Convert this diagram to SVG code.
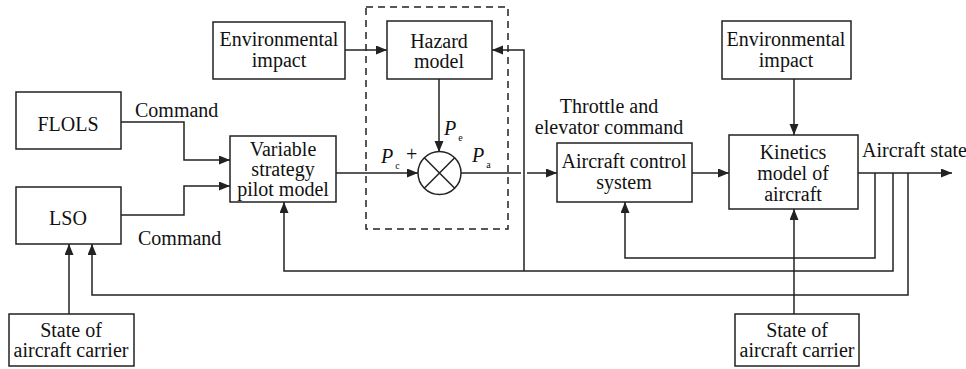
<svg xmlns="http://www.w3.org/2000/svg" width="966" height="369" viewBox="0 0 966 369">
  <style>
    .box { fill: #fff; stroke: #222; stroke-width: 1.5; }
    .ln { fill: none; stroke: #222; stroke-width: 1.5; }
    .arr { marker-end: url(#ah); }
    .dash { fill: none; stroke: #222; stroke-width: 1.5; stroke-dasharray: 7 5; }
    text { font-family: 'Liberation Serif', 'Times New Roman', serif; font-size: 20px; fill: #111; text-anchor: middle; }
    .it { font-style: italic; }
    .sub { font-size: 10px; font-style: normal; }
    .st { text-anchor: start; }
  </style>
  <defs>
    <marker id="ah" markerUnits="userSpaceOnUse" markerWidth="12" markerHeight="10" refX="11" refY="4.5" orient="auto">
      <path d="M0,0 L11,4.5 L0,9 z" fill="#222"/>
    </marker>
  </defs>

  <rect width="966" height="369" fill="#fff"/>

  <!-- hazard sub-system frame -->
  <rect class="dash" x="366" y="7" width="142" height="222"/>

  <g id="connectors">
    <path class="ln arr" d="M121,122 H184 V160 H230"/>
    <path class="ln arr" d="M121,215 H184 V186 H230"/>
    <path class="ln arr" d="M345,50 H387"/>
    <path class="ln arr" d="M439,79 V152"/>
    <path class="ln arr" d="M336,173 H418"/>
    <path class="ln" d="M461,173 H521"/>
    <path class="ln arr" d="M527,173 H557"/>
    <path class="ln arr" d="M692,173 H729"/>
    <path class="ln arr" d="M794,79 V135"/>
    <path class="ln arr" d="M858,173 H952"/>
    <path class="ln arr" d="M875,173 V258 H625 V202"/>
    <path class="ln arr" d="M893,173 V271 H284 V202"/>
    <path class="ln arr" d="M524,271 V50 H492"/>
    <path class="ln arr" d="M908,173 V295 H92 V244"/>
    <path class="ln arr" d="M69,314 V244"/>
    <path class="ln arr" d="M794,314 V209"/>
  </g>

  <g id="env-left">
    <rect class="box" x="213" y="22" width="132" height="57"/>
    <text x="279" y="46">Environmental</text>
    <text x="279" y="67">impact</text>
  </g>

  <g id="hazard">
    <rect class="box" x="387" y="21" width="105" height="58"/>
    <text x="439" y="48">Hazard</text>
    <text x="439" y="68">model</text>
  </g>

  <g id="flols">
    <rect class="box" x="16" y="92" width="105" height="57"/>
    <text x="68" y="131">FLOLS</text>
  </g>

  <g id="lso">
    <rect class="box" x="16" y="187" width="105" height="57"/>
    <text x="68" y="225">LSO</text>
  </g>

  <g id="pilot">
    <rect class="box" x="230" y="136" width="106" height="66"/>
    <text x="283" y="156">Variable</text>
    <text x="283" y="176">strategy</text>
    <text x="283" y="196">pilot model</text>
  </g>

  <g id="sum">
    <circle class="box" cx="439.5" cy="173" r="21.5"/>
    <path class="ln" d="M424.3,157.8 L454.7,188.2 M454.7,157.8 L424.3,188.2"/>
  </g>

  <g id="control">
    <rect class="box" x="557" y="143" width="135" height="59"/>
    <text x="624" y="168">Aircraft control</text>
    <text x="624" y="189">system</text>
  </g>

  <g id="env-right">
    <rect class="box" x="722" y="21" width="129" height="58"/>
    <text x="786" y="46">Environmental</text>
    <text x="786" y="67">impact</text>
  </g>

  <g id="kinetics">
    <rect class="box" x="729" y="135" width="129" height="74"/>
    <text x="793" y="159">Kinetics</text>
    <text x="793" y="180">model of</text>
    <text x="793" y="201">aircraft</text>
  </g>

  <g id="carrier-left">
    <rect class="box" x="9" y="314" width="125" height="52"/>
    <text x="71" y="337">State of</text>
    <text x="71" y="357">aircraft carrier</text>
  </g>

  <g id="carrier-right">
    <rect class="box" x="735" y="314" width="124" height="52"/>
    <text x="797" y="337">State of</text>
    <text x="797" y="357">aircraft carrier</text>
  </g>

  <g id="labels">
    <text class="st" x="135" y="117">Command</text>
    <text class="st" x="138" y="245">Command</text>
    <text x="609" y="113">Throttle and</text>
    <text x="609" y="134">elevator command</text>
    <text class="st" x="862" y="157">Aircraft state</text>
    <text class="st it" x="381" y="163">P<tspan class="sub" dx="2" dy="6">c</tspan></text>
    <text class="st" x="406" y="161">+</text>
    <text class="st it" x="444" y="135">P<tspan class="sub" dx="2" dy="6">e</tspan></text>
    <text class="st it" x="472" y="162">P<tspan class="sub" dx="2" dy="6">a</tspan></text>
  </g>
</svg>
